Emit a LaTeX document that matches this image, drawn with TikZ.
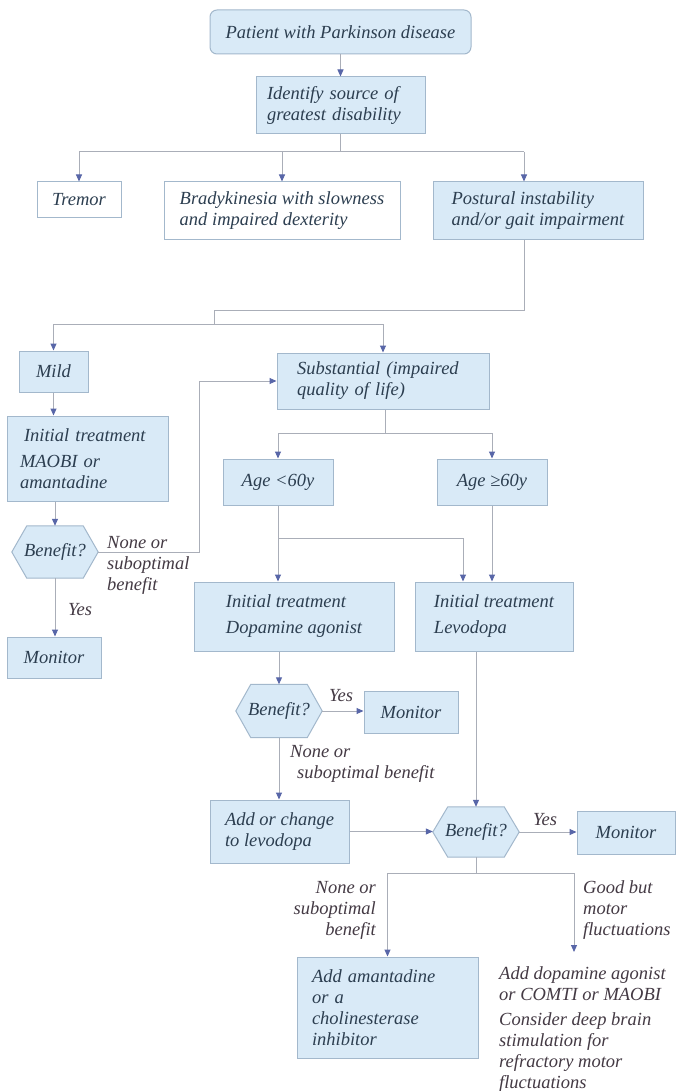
\documentclass[tikz,border=0pt]{standalone}
\usepackage{fontspec}
\setmainfont{Liberation Serif}
\usetikzlibrary{arrows.meta,backgrounds}

\definecolor{boxfill}{RGB}{217,234,247}
\definecolor{boxline}{RGB}{163,184,204}
\definecolor{wire}{RGB}{170,174,184}
\definecolor{tipc}{RGB}{88,102,168}
\definecolor{ink}{RGB}{44,62,80}
\definecolor{note}{RGB}{68,58,68}

\begin{document}
\begin{tikzpicture}[x=1pt,y=-1pt,
  every node/.style={font=\fontsize{18.5}{21}\selectfont\itshape, text=ink, inner ysep=0pt},
  box/.style={draw=boxline, fill=boxfill, line width=1pt, align=left},
  wbox/.style={box, fill=white},
  ln/.style={draw=wire, line width=1pt},
  arr/.style={ln, -{Triangle[length=7pt,width=6pt,color=tipc]}},
  hexn/.style={minimum width=86pt, inner sep=0pt},
  lbl/.style={inner sep=0pt, text=note}]

\begin{scope}[on background layer]
  \fill[white] (0,0) rectangle (676,1091);
\end{scope}
\useasboundingbox (0,0) rectangle (676,1091);

% ---- boxes -------------------------------------------------------------
\node[box, rounded corners=7pt, minimum width=261pt, minimum height=44pt, align=center] (patient) at (340.5,32) {Patient with Parkinson disease};
\node[box, text width=147pt, inner xsep=11pt, minimum height=57pt] (ident) at (340.5,105.5) {Identify source of\\greatest disability};
\node[wbox, minimum width=84pt, minimum height=36pt] (tremor) at (79,200) {Tremor};
\node[wbox, minimum width=236pt, minimum height=58pt] (brady) at (282,211) {Bradykinesia with slowness\\and impaired dexterity};
\node[box, minimum width=210pt, minimum height=58pt] (postural) at (538,211) {Postural instability\\and/or gait impairment};

\node[box, minimum width=69pt, minimum height=41pt] (mild) at (53.5,371.5) {Mild};
\node[box, text width=135pt, inner xsep=13pt, minimum height=85pt] (maobi) at (87.5,458.5) {\hspace*{4pt}Initial treatment\\[5pt]MAOBI or\\amantadine};
\node[hexn, minimum height=52pt] (hex1) at (55,552) {Benefit?};
\node[box, minimum width=94pt, minimum height=41pt] (mon1) at (54,657.5) {Monitor};

\node[box, text width=172pt, inner xsep=20pt, minimum height=56pt] (subst) at (383,381) {Substantial (impaired\\quality of life)};
\node[box, minimum width=110pt, minimum height=46pt] (age1) at (278,482) {Age <60y};
\node[box, minimum width=110pt, minimum height=46pt] (age2) at (492,482) {Age ≥60y};

\node[box, minimum width=200pt, minimum height=69pt] (dopa) at (294,616.5) {Initial treatment\\[5pt]Dopamine agonist};
\node[box, minimum width=158pt, minimum height=69pt] (levo) at (494,616.5) {Initial treatment\\[5pt]Levodopa};

\node[hexn, minimum height=53pt] (hex2) at (279,711) {Benefit?};
\node[box, minimum width=94pt, minimum height=42pt] (mon2) at (411,712) {Monitor};

\node[box, minimum width=139pt, minimum height=63pt] (addchg) at (279.5,831.5) {Add or change\\to levodopa};
\node[hexn, minimum height=50pt] (hex3) at (476,832) {Benefit?};
\node[box, minimum width=98pt, minimum height=43pt] (mon3) at (626,832.5) {Monitor};

\node[box, text width=151pt, inner xsep=15pt, minimum height=101pt] (amant) at (387.5,1007.5) {Add amantadine\\or a\\cholinesterase\\inhibitor};
\node[lbl, anchor=west, align=left] (advice) at (499,1030) {Add dopamine agonist\\or COMTI or MAOBI\\[4pt]Consider deep brain\\stimulation for\\refractory motor\\fluctuations};

% ---- decision hexagons -------------------------------------------------
\begin{scope}[on background layer]
  \foreach \h in {hex1,hex2,hex3}
    \draw[draw=boxline, fill=boxfill, line width=1pt]
      (\h.west) -- ([xshift=15pt]\h.north west) -- ([xshift=-15pt]\h.north east)
      -- (\h.east) -- ([xshift=-15pt]\h.south east) -- ([xshift=15pt]\h.south west) -- cycle;
\end{scope}

% ---- branch labels -----------------------------------------------------
\node[lbl, anchor=west, align=left] (lb1) at (107,565.5) {None or\\suboptimal\\benefit};
\node[lbl] (y1) at (80,610) {Yes};
\node[lbl] (y2) at (341,696) {Yes};
\node[lbl, anchor=west, align=left] (lb2) at (290,763.5) {None or\\\hspace*{7pt}suboptimal benefit};
\node[lbl] (y3) at (545,820) {Yes};
\node[lbl, anchor=east, align=right] (lb3) at (376,910) {None or\\suboptimal\\benefit};
\node[lbl, anchor=west, align=left] (lb4) at (583,910) {Good but\\motor\\fluctuations};

% ---- connectors --------------------------------------------------------
\draw[arr] (patient.south) -- (ident.north);

\coordinate (j1) at (340.5,152);
\coordinate (pj) at (524,152);
\draw[ln] (ident.south) -- (j1);
\draw[ln] (tremor.north |- j1) -- (pj);
\draw[arr] (tremor.north |- j1) -- (tremor.north);
\draw[arr] (brady.north |- j1) -- (brady.north);
\draw[arr] (pj) -- (pj |- postural.north);

\coordinate (k1) at (524,310);
\coordinate (k2) at (214,324);
\draw[ln] (pj |- postural.south) -- (k1) -| (k2);
\draw[ln] (mild.north |- k2) -- (subst.north |- k2);
\draw[arr] (mild.north |- k2) -- (mild.north);
\draw[arr] (subst.north |- k2) -- (subst.north);

\draw[arr] (mild.south) -- (mild.south |- maobi.north);
\draw[arr] (hex1.north |- maobi.south) -- (hex1.north);
\draw[arr] (hex1.south) -- (hex1.south |- mon1.north);
\coordinate (fb) at (199,552);
\draw[arr] (hex1.east) -- (fb) |- (subst.west);

\coordinate (k3) at (385,433);
\draw[ln] (subst.south -| k3) -- (k3);
\draw[ln] (age1.north |- k3) -- (age2.north |- k3);
\draw[arr] (age1.north |- k3) -- (age1.north);
\draw[arr] (age2.north |- k3) -- (age2.north);

\draw[arr] (age1.south) -- (age1.south |- dopa.north);
\coordinate (k4) at (463,538);
\draw[ln] (age1.south |- k4) -- (k4);
\draw[arr] (k4) -- (k4 |- levo.north);
\draw[arr] (age2.south) -- (age2.south |- levo.north);

\draw[arr] (hex2.north |- dopa.south) -- (hex2.north);
\draw[arr] (hex2.east) -- (hex2.east -| mon2.west);
\draw[arr] (hex2.south) -- (hex2.south |- addchg.north);

\draw[arr] (hex3.north |- levo.south) -- (hex3.north);
\draw[arr] (addchg.east) -- (addchg.east -| hex3.west);
\draw[arr] (hex3.east) -- (hex3.east -| mon3.west);

\coordinate (k5) at (476,873);
\coordinate (k6) at (574,873);
\coordinate (k7) at (574,952);
\draw[ln] (hex3.south) -- (k5);
\draw[ln] (amant.north |- k5) -- (k6);
\draw[arr] (amant.north |- k5) -- (amant.north);
\draw[arr] (k6) -- (k7);
\end{tikzpicture}
\end{document}
